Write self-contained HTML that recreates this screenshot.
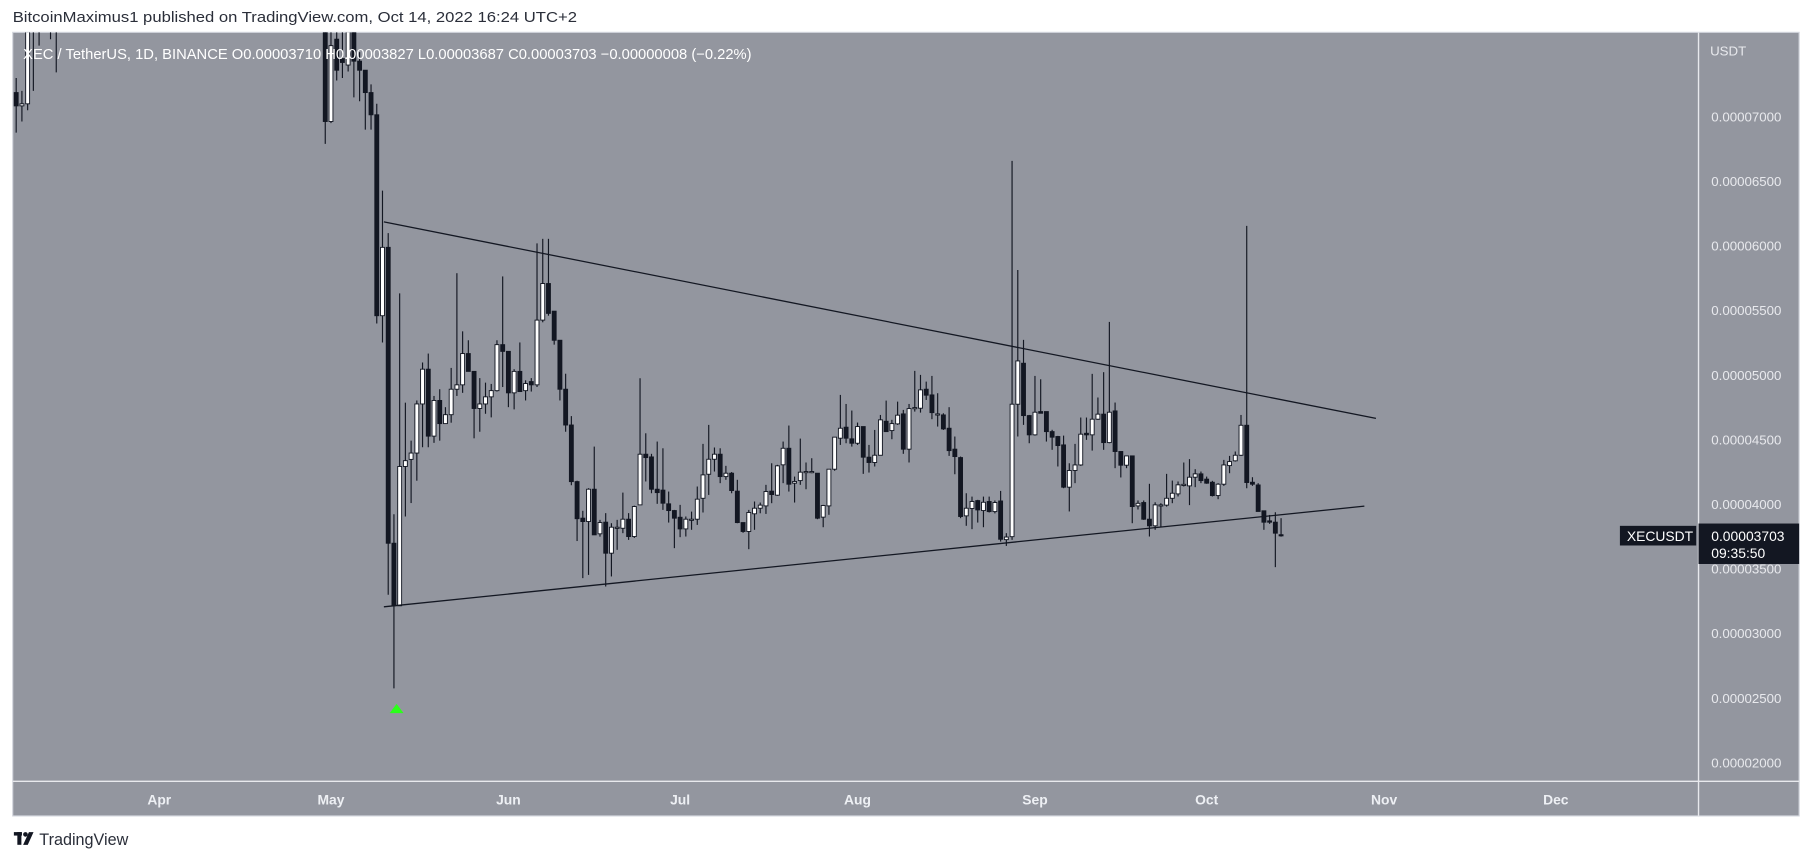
<!DOCTYPE html>
<html><head><meta charset="utf-8"><style>
html,body{margin:0;padding:0;background:#fff;}
svg{display:block;}
text{font-family:"Liberation Sans",sans-serif;}
</style></head><body>
<svg id="chart" width="1813" height="861" viewBox="0 0 1568 745" preserveAspectRatio="none" xmlns="http://www.w3.org/2000/svg">
<rect x="0" y="0" width="1568" height="745" fill="#ffffff"/>
<text x="11" y="19" font-size="13" fill="#2a2e39" textLength="488" lengthAdjust="spacingAndGlyphs">BitcoinMaximus1 published on TradingView.com, Oct 14, 2022 16:24 UTC+2</text>
<rect x="11" y="28" width="1545" height="678" fill="#93969f" stroke="#d1d4dc" stroke-width="1"/>
<g id="plot-clip-wrap">
<clipPath id="plotclip"><rect x="11" y="28" width="1458" height="648"/></clipPath>
<g id="candles" clip-path="url(#plotclip)"></g>
<g id="trendlines" clip-path="url(#plotclip)"></g>
</g>
<line x1="1469" y1="28" x2="1469" y2="706" stroke="#e8e9ed" stroke-width="1.2"/>
<line x1="11" y1="676" x2="1556" y2="676" stroke="#e8e9ed" stroke-width="1.2"/>
<text x="20" y="51" font-size="12.5" fill="#ffffff" textLength="630" lengthAdjust="spacingAndGlyphs">XEC / TetherUS, 1D, BINANCE  O0.00003710  H0.00003827  L0.00003687  C0.00003703  −0.00000008 (−0.22%)</text>
<text x="1479" y="48" font-size="11.5" fill="#e8e9ed">USDT</text>
<g id="price-ticks"></g>
<g id="time-ticks"></g>
<polygon points="343,609 337,617 349,617" fill="#2bff1a"/>
<rect x="1401" y="455" width="66" height="17" fill="#131722"/>
<text x="1407" y="468" font-size="12" fill="#ffffff">XECUSDT</text>
<rect x="1469" y="453" width="87" height="35" fill="#131722"/>
<text x="1480" y="468" font-size="12" fill="#ffffff">0.00003703</text>
<text x="1480" y="483" font-size="12" fill="#ffffff">09:35:50</text>
<g>
<rect x="12" y="720" width="7" height="3" fill="#131722"/><rect x="15" y="720" width="3.5" height="11" fill="#131722"/>
<circle cx="22" cy="722" r="2" fill="#131722"/><polygon points="25,720 29,720 24,731 20,731" fill="#131722"/>
<text x="34" y="731" font-size="14" fill="#2a2e39">TradingView</text>
</g>
</svg>
<script>
const priceTicks = [7000, 6500, 6000, 5500, 5000, 4500, 4000, 3500, 3000, 2500, 2000];
const priceTickLabels = ["0.00007000","0.00006500","0.00006000","0.00005500","0.00005000","0.00004500","0.00004000","0.00003500","0.00003000","0.00002500","0.00002000"];
const monthLabels = ["Apr","May","Jun","Jul","Aug","Sep","Oct","Nov","Dec"];
const monthDayIndex = [25, 55, 86, 116, 147, 178, 208, 239, 269];
const opens = [7187,7084,7100,7900,8200,7800,8100,7900,
8300,8600,8400,8900,9200,8800,9100,9400,9000,8700,8900,9300,9600,9200,8900,9100,8800,8600,8900,9200,9500,9300,9000,8800,8600,8900,9100,8800,8500,8700,9000,8800,8500,8300,8600,8400,8200,8400,8600,8300,8100,8300,8500,8200,8000,8200,
8000,6963,7600,7450,7400,7700,7430,7360,7187,7015,5460,5989,
3699,3215,4293,4348,4397,4777,5046,4528,4804,4625,4694,4891,4925,5167,5029,4742,4777,4832,4880,5236,5184,4863,5029,4880,4950,4925,5426,5709,5495,5270,4891,4614,4176,
3893,3867,4117,3772,3862,3622,3823,3815,3885,3751,3996,4388,4367,4117,4110,4004,3952,3900,3810,3885,3885,4047,4233,4349,4388,4215,4241,4102,3859,3790,3927,3970,3988,4102,4071,4306,4434,4164,4184,4254,4254,4241,3901,3988,4272,4512,4597,4507,4473,4602,4365,4324,4380,4643,4571,4623,4700,4427,4749,4744,4891,4847,4700,4692,4589,4427,4362,3911,3968,4029,3952,4022,3944,
4026,3727,3750,4775,5092,4687,4538,4718,4718,4563,4525,4460,4133,4262,4305,4550,4538,4659,4698,4478,4723,4409,4303,4375,3988,4014,3885,3834,3994,3994,4047,4081,4151,4143,4210,4236,4195,4171,4068,4156,4300,4337,4380,4612,4171,4150,3950,3872,3862,3765];
const closes = [7084,7100,7900,8200,7800,8100,7900,8300,
8600,8400,8900,9200,8800,9100,9400,9000,8700,8900,9300,9600,9200,8900,9100,8800,8600,8900,9200,9500,9300,9000,8800,8600,8900,9100,8800,8500,8700,9000,8800,8500,8300,8600,8400,8200,8400,8600,8300,8100,8300,8500,8200,8000,8200,8000,
6963,7550,7360,7420,7800,7430,7360,7187,7015,5460,5989,3699,
3215,4293,4338,4397,4777,5046,4528,4804,4625,4694,4891,4925,5167,5029,4742,4777,4832,4880,5236,5184,4863,5029,4873,4935,4925,5426,5709,5478,5270,4891,4614,4176,3889,
3867,4117,3764,3859,3622,3823,3823,3885,3751,3983,4388,4362,4117,4091,4009,3952,3893,3810,3885,3885,4040,4228,4349,4388,4215,4241,4107,3859,3790,3937,3970,3994,4099,4076,4298,4434,4156,4177,4249,4254,4254,3893,3991,4272,4520,4589,4512,4473,4602,4365,4324,4380,4654,4563,4625,4690,4427,4741,4749,4886,4845,4710,4700,4584,4416,4370,3906,3970,4022,3957,4016,3944,4014,
3730,3747,4775,5110,4687,4538,4713,4705,4563,4520,4455,4133,4262,4305,4543,4538,4659,4698,4478,4713,4409,4303,4375,3983,4008,3885,3834,3996,3996,4047,4086,4151,4155,4210,4236,4184,4164,4068,4156,4305,4331,4380,4612,4169,4156,3945,3862,3862,3777,3763];
const highs = [7300,7200,8100,8400,8300,8300,8200,8500,
8800,8700,9100,9400,9300,9300,9600,9500,9100,9100,9500,9800,9700,9300,9300,9200,8900,9100,9400,9700,9600,9400,9100,8900,9100,9300,9200,8900,8900,9200,9100,8900,8600,8800,8700,8500,8600,8800,8700,8400,8500,8700,8600,8300,8400,8300,
8200,7800,7800,7700,8000,7800,7500,7360,7250,7100,6428,6099,
3923,5633,4787,4493,4804,5098,5167,4839,4891,4752,5056,5789,5339,5270,5029,4977,4942,4932,5270,5764,5184,5046,5253,4960,4977,6020,6055,6055,5495,5270,5011,4683,4183,
3950,4125,4447,3880,3932,3854,3880,4091,3932,3990,4976,4550,4391,4486,4434,4099,3957,3996,3906,3944,4138,4468,4615,4440,4434,4298,4250,4190,3860,3957,4022,4014,4151,4318,4306,4486,4610,4215,4509,4324,4357,4241,3996,4272,4520,4847,4777,4726,4633,4602,4460,4576,4692,4803,4654,4795,4731,4777,5033,5002,4950,4994,4860,4705,4752,4525,4370,4086,4060,4035,4060,4060,4030,
4104,3777,6658,5814,5273,4692,4994,4968,4718,4577,4530,4532,4318,4468,4672,4672,5010,4827,5023,5412,4788,4409,4375,4375,4030,4030,4159,4016,4009,4236,4184,4177,4324,4350,4272,4254,4215,4182,4164,4344,4375,4409,4692,6155,4210,4164,3950,3918,3939,3893];
const lows = [6877,6963,7050,7200,7550,7700,7600,7343,
8400,8200,8600,8800,8600,8900,9000,8800,8500,8700,8900,9200,8900,8700,8800,8600,8400,8500,8900,9200,9100,8900,8600,8400,8500,8800,8600,8300,8500,8700,8600,8300,8100,8200,8200,8000,8100,8300,8100,7900,8000,8200,8000,7800,7900,7800,
6790,6950,7280,7300,7350,7150,7120,6900,6900,5400,5253,3300,
2576,3215,3906,4010,4183,4442,4442,4476,4493,4632,4632,4839,4863,5029,4511,4562,4701,4673,4873,4908,4752,4735,4873,4804,4873,4908,5409,5460,5236,4804,4562,4148,3716,
3429,3454,3764,3750,3364,3442,3648,3777,3725,3740,3996,4177,4086,4004,3957,3859,3661,3746,3751,3803,3841,3937,4073,4254,4164,4190,4086,3854,3780,3653,3803,3931,3926,4009,4066,4164,4099,4014,4151,4117,4241,3885,3823,3919,4260,4460,4473,4447,4460,4236,4246,4293,4380,4563,4504,4615,4391,4324,4718,4710,4808,4659,4602,4576,4375,4233,3893,3834,3808,3859,3823,3937,3930,
3712,3678,3725,4525,4615,4473,4532,4705,4486,4422,4293,4125,3945,4164,4298,4499,4416,4654,4422,4473,4280,4208,4280,3854,3960,3880,3751,3803,3828,3983,4009,4061,4138,3994,4133,4164,4159,4061,4040,4143,4241,4331,4375,4125,4143,3945,3803,3849,3514,3750];

const NS = "http://www.w3.org/2000/svg";
function yScale(p){ return 101 + (7000 - p) * 0.1118; }
function xScale(i){ return 14 + i * 4.95; }
function dayX(d){ return 14 + d * 4.95; }

const cg = document.getElementById('candles');
for (let i = 0; i < closes.length; i++) {
  const o = opens[i], c = closes[i], h = highs[i], l = lows[i];
  const x = xScale(i);
  const up = c >= o;
  const g = document.createElementNS(NS, 'g');
  
  
  const w = document.createElementNS(NS, 'line');
  w.setAttribute('x1', x); w.setAttribute('x2', x);
  w.setAttribute('y1', yScale(h)); w.setAttribute('y2', yScale(l));
  w.setAttribute('stroke', '#131722'); w.setAttribute('stroke-width', '1');
  g.appendChild(w);
  const top = yScale(Math.max(o, c)), bot = yScale(Math.min(o, c));
  const r = document.createElementNS(NS, 'rect');
  r.setAttribute('x', x - 1.7); r.setAttribute('width', 3.4);
  r.setAttribute('y', top); r.setAttribute('height', Math.max(1, bot - top));
  r.setAttribute('fill', up ? '#ffffff' : '#131722');
  r.setAttribute('stroke', '#131722'); r.setAttribute('stroke-width', '0.8');
  g.appendChild(r);
  cg.appendChild(g);
}

const trendStart = [[332, 6186], [332, 3207]];
const trendEnd = [[1190, 4665], [1180, 3986]];
const tg = document.getElementById('trendlines');
for (let k = 0; k < 2; k++) {
  const ln = document.createElementNS(NS, 'line');
  
  
  ln.setAttribute('x1', trendStart[k][0]); ln.setAttribute('y1', yScale(trendStart[k][1]));
  ln.setAttribute('x2', trendEnd[k][0]); ln.setAttribute('y2', yScale(trendEnd[k][1]));
  ln.setAttribute('stroke', '#131722'); ln.setAttribute('stroke-width', '1.1');
  tg.appendChild(ln);
}

const pg = document.getElementById('price-ticks');
for (let k = 0; k < priceTicks.length; k++) {
  const t = document.createElementNS(NS, 'text');
  
  
  t.setAttribute('x', 1480); t.setAttribute('y', yScale(priceTicks[k]) + 4);
  t.setAttribute('font-size', '11.5'); t.setAttribute('fill', '#e8e9ed');
  t.textContent = priceTickLabels[k];
  pg.appendChild(t);
}
const mg = document.getElementById('time-ticks');
for (let k = 0; k < monthLabels.length; k++) {
  const t = document.createElementNS(NS, 'text');
  
  
  t.setAttribute('x', dayX(monthDayIndex[k])); t.setAttribute('y', 696);
  t.setAttribute('font-size', '12'); t.setAttribute('font-weight', 'bold');
  t.setAttribute('text-anchor', 'middle'); t.setAttribute('fill', '#eef0f4');
  t.textContent = monthLabels[k];
  mg.appendChild(t);
}
</script>
</body></html>
